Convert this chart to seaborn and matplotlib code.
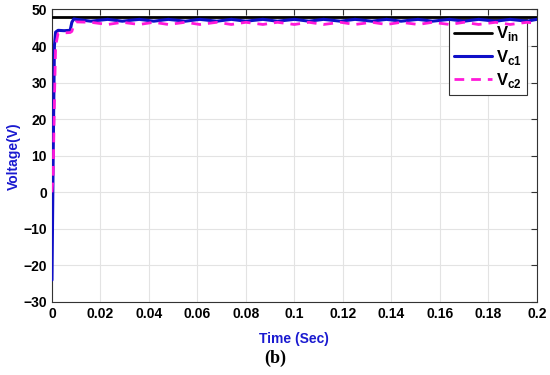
import numpy as np
import pandas as pd
import matplotlib
matplotlib.use("Agg")
import matplotlib.pyplot as plt
import seaborn as sns

# ---- data ----
time = [0.000, 0.0005, 0.0010, 0.0015, 0.0025, 0.0050, 0.0075, 0.0082, 0.0090, 0.0100,
        0.016, 0.023, 0.029, 0.036, 0.042, 0.048, 0.055, 0.061, 0.068, 0.074,
        0.080, 0.087, 0.093, 0.100, 0.106, 0.112, 0.119, 0.125, 0.132, 0.138,
        0.144, 0.151, 0.157, 0.164, 0.170, 0.176, 0.183, 0.189, 0.196, 0.200]
vc1 = [-24.0, 10.0, 40.0, 43.8, 44.3, 44.2, 44.3, 46.5, 47.4, 47.3,
       46.8, 47.3, 46.8, 47.3, 46.8, 47.3, 46.8, 47.3, 46.8, 47.3,
       46.8, 47.3, 46.8, 47.3, 46.8, 47.3, 46.8, 47.3, 46.8, 47.3,
       46.8, 47.3, 46.8, 47.3, 46.8, 47.3, 46.8, 47.3, 46.8, 47.3]
vc2 = [0.0, 5.0, 25.0, 40.0, 43.4, 43.6, 43.7, 44.0, 45.8, 46.6,
       46.5, 45.9, 46.5, 45.9, 46.5, 45.9, 46.5, 45.9, 46.5, 45.9,
       46.5, 45.9, 46.5, 45.9, 46.5, 45.9, 46.5, 45.9, 46.5, 45.9,
       46.5, 45.9, 46.5, 45.9, 46.5, 45.9, 46.5, 45.9, 46.5, 46.2]
vin_time = [0.0, 0.2]
vin = [48.0, 48.0]

xticks = [0, 0.02, 0.04, 0.06, 0.08, 0.1, 0.12, 0.14, 0.16, 0.18, 0.2]
xtick_labels = ["0", "0.02", "0.04", "0.06", "0.08", "0.1", "0.12", "0.14", "0.16", "0.18", "0.2"]
yticks = [-30, -20, -10, 0, 10, 20, 30, 40, 50]

sns.set_style("white")
plt.rcParams['font.family'] = ['Liberation Sans', 'DejaVu Sans']
plt.rcParams['text.color'] = 'black'
plt.rcParams['xtick.color'] = 'black'
plt.rcParams['ytick.color'] = 'black'

fig = plt.figure(figsize=(5.5, 3.75), dpi=100)
ax = fig.add_axes([0.0945, 0.1947, 0.8815, 0.78])

df = pd.DataFrame({"t": time, "vc1": vc1, "vc2": vc2})
dfin = pd.DataFrame({"t": vin_time, "vin": vin})

sns.lineplot(data=dfin, x="t", y="vin", ax=ax, color="black", linewidth=2.0,
             label=r"V$_{\mathregular{in}}$", zorder=3)
sns.lineplot(data=df, x="t", y="vc1", ax=ax, color="#1010c8", linewidth=2.2,
             label=r"V$_{\mathregular{c1}}$", zorder=3)
sns.lineplot(data=df, x="t", y="vc2", ax=ax, color="#ff1ad9", linewidth=2.0,
             linestyle=(0, (3.5, 2.5)), label=r"V$_{\mathregular{c2}}$", zorder=3)

ax.set_xlim(0, 0.2)
ax.set_ylim(-30, 50)
ax.set_xticks(xticks)
ax.set_xticklabels(xtick_labels)
ax.set_yticks(yticks)
ax.grid(True, color="#e3e3e3", linewidth=0.8)
ax.tick_params(direction="in", length=4, top=True, right=True, labelsize=10,
               color="#333333", width=0.8, labelcolor="black")
for lbl in ax.get_xticklabels() + ax.get_yticklabels():
    lbl.set_fontweight("bold")
for s in ax.spines.values():
    s.set_color("#333333")
    s.set_linewidth(0.8)

ax.set_xlabel("Time (Sec)", color="#1a1ad0", fontsize=10, fontweight="bold", labelpad=8)
ax.set_ylabel("Voltage(V)", color="#1a1ad0", fontsize=10, fontweight="bold", labelpad=2)

leg = ax.legend(loc="upper right", bbox_to_anchor=(0.979, 0.966),
                prop={"weight": "bold", "size": 12},
                frameon=True, fancybox=False, framealpha=1, edgecolor="#333333",
                handlelength=2.3, borderpad=0.3, labelspacing=0.25, handletextpad=0.2,
                borderaxespad=0)
leg.get_frame().set_linewidth(0.8)
leg.set_zorder(2.6)

fig.text(0.5, 0.045, "(b)", ha="center", va="center", fontsize=13,
         family="Liberation Serif", fontweight="bold")

fig.savefig("out.png", dpi=100)
